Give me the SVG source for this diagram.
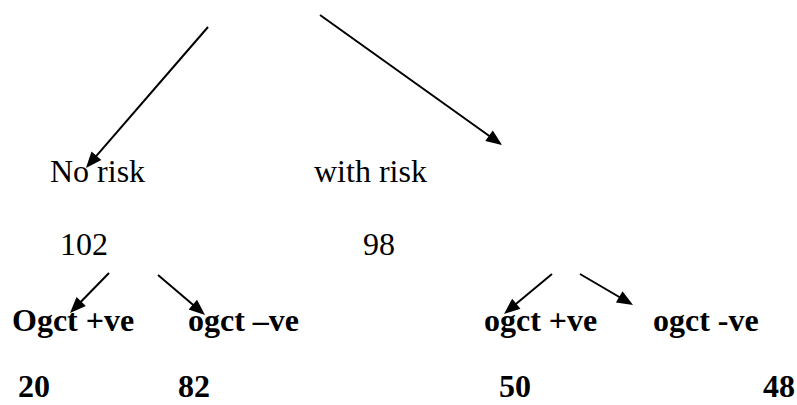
<svg xmlns="http://www.w3.org/2000/svg" width="797" height="405" viewBox="0 0 797 405">
<style>
  text { font-family: "Liberation Serif", "Times New Roman", serif; font-size: 32px; fill: #000; }
  .b { font-weight: bold; }
  .c { stroke: #000; stroke-width: 2; fill: none; marker-end: url(#ah); }
</style>
<defs>
  <marker id="ah" markerUnits="userSpaceOnUse" markerWidth="16" markerHeight="13" refX="6" refY="6.5" orient="auto" overflow="visible">
    <path d="M0,0 L16,6.5 L0,13 Z" fill="#000"/>
  </marker>
</defs>
<rect width="797" height="405" fill="#fff"/>
<g id="connectors">
  <line class="c" x1="208" y1="27" x2="92.5" y2="160.4"/>
  <line class="c" x1="320" y1="15" x2="493.9" y2="139.2"/>
  <line class="c" x1="109" y1="273" x2="77" y2="305.8"/>
  <line class="c" x1="158" y1="275" x2="197.4" y2="308.5"/>
  <line class="c" x1="552" y1="274" x2="511.7" y2="307.6"/>
  <line class="c" x1="580" y1="274" x2="624.4" y2="300"/>
</g>
<g id="no-risk"><text x="50" y="182">No risk</text><text x="60" y="255">102</text></g>
<g id="with-risk"><text x="314" y="182">with risk</text><text x="363" y="255">98</text></g>
<g id="nr-pos"><text class="b" x="12" y="331">Ogct +ve</text><text class="b" x="18" y="397">20</text></g>
<g id="nr-neg"><text class="b" x="188" y="331">ogct –ve</text><text class="b" x="178" y="397">82</text></g>
<g id="wr-pos"><text class="b" x="484" y="331">ogct +ve</text><text class="b" x="499" y="397">50</text></g>
<g id="wr-neg"><text class="b" x="653" y="331">ogct -ve</text><text class="b" x="763" y="397">48</text></g>
</svg>
